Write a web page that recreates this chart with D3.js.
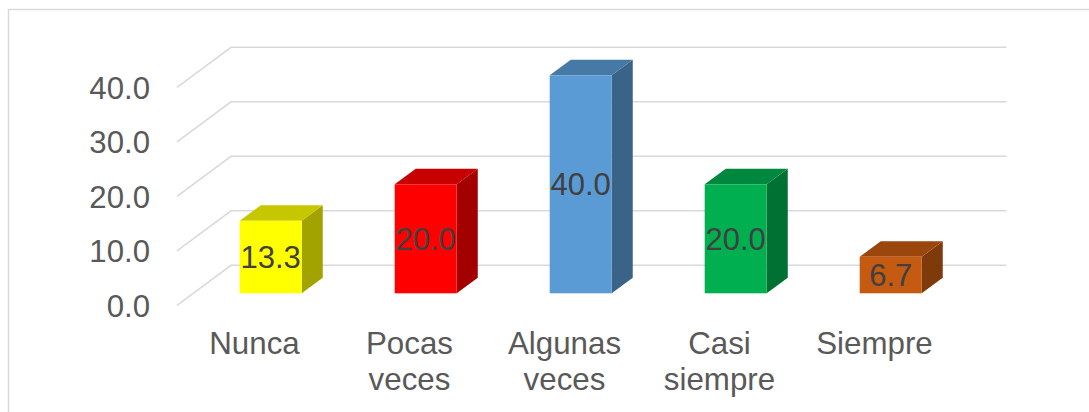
<!DOCTYPE html>
<html lang="es">
<head>
<meta charset="utf-8">
<title>Frecuencia</title>
<script src="https://cdn.jsdelivr.net/npm/d3@7/dist/d3.min.js"></script>
<style>
  body { margin: 0; background: #fff; }
  text { font-family: "Liberation Sans", Arial, sans-serif; }
</style>
</head>
<body>
<script>
// data
var categories = [["Nunca"], ["Pocas", "veces"], ["Algunas", "veces"], ["Casi", "siempre"], ["Siempre"]];
var values = [13.3, 20.0, 40.0, 20.0, 6.7];
var barColors = ["#FFFF00", "#FF0000", "#5B9BD5", "#00B050", "#C55A11"];
var yTicks = [0, 10, 20, 30, 40];

var w = 1089, h = 412;
// 3d floor depth vector and bar placement inside it
var depth = {dx: 54, dy: -40};
var barOff = 0.3, barDepth = 0.39;

var svg = d3.select("body").append("svg").attr("width", w).attr("height", h);

// chart border (only top and left visible)
svg.append("rect")
  .attr("x", 8.5).attr("y", 9.5)
  .attr("width", 1200).attr("height", 500)
  .attr("fill", "none").attr("stroke", "#D9D9D9").attr("stroke-width", 1.5);

var x = d3.scaleBand()
  .domain(d3.range(categories.length))
  .range([177, 952])
  .paddingInner(0.6)
  .paddingOuter(0.3);

var y = d3.scaleLinear().domain([0, 40]).range([305.3, 87.3]);

// gridlines: floor diagonal + back wall
svg.append("g").selectAll("path")
  .data(yTicks)
  .enter().append("path")
  .attr("d", function(t) {
    var fy = y(t);
    return "M177," + fy + "L" + (177 + depth.dx) + "," + (fy + depth.dy) + "L1006.5," + (fy + depth.dy);
  })
  .attr("fill", "none")
  .attr("stroke", "#D9D9D9")
  .attr("stroke-width", 1.5);

// y tick labels
svg.append("g").selectAll("text")
  .data(yTicks)
  .enter().append("text")
  .attr("x", 150)
  .attr("y", function(t) { return y(t); })
  .attr("dy", "0.36em")
  .attr("text-anchor", "end")
  .attr("font-size", "31.2px")
  .attr("fill", "#595959")
  .text(function(t) { return t.toFixed(1); });

function shade(c, k) {
  var r = d3.rgb(c);
  return d3.rgb(r.r * k, r.g * k, r.b * k).formatHex();
}

var ox = barOff * depth.dx, oy = barOff * depth.dy;
var bx = barDepth * depth.dx, by = barDepth * depth.dy;

var bars = svg.append("g").selectAll("g")
  .data(values)
  .enter().append("g");

bars.each(function(v, i) {
  var g = d3.select(this);
  var x0 = x(i) + ox, x1 = x0 + x.bandwidth();
  var yb = y(0) + oy, yt = y(v) + oy;
  // side face
  g.append("path")
    .attr("d", "M" + x1 + "," + yb + "L" + (x1 + bx) + "," + (yb + by) + "L" + (x1 + bx) + "," + (yt + by) + "L" + x1 + "," + yt + "Z")
    .attr("fill", shade(barColors[i], 0.64));
  // top face
  g.append("path")
    .attr("d", "M" + x0 + "," + yt + "L" + x1 + "," + yt + "L" + (x1 + bx) + "," + (yt + by) + "L" + (x0 + bx) + "," + (yt + by) + "Z")
    .attr("fill", shade(barColors[i], 0.78));
  // front face
  g.append("rect")
    .attr("x", x0).attr("y", yt)
    .attr("width", x.bandwidth()).attr("height", yb - yt)
    .attr("fill", barColors[i]);
  // value label
  g.append("text")
    .attr("x", x0 + x.bandwidth() / 2)
    .attr("y", (yt + yb) / 2)
    .attr("dy", "0.36em")
    .attr("text-anchor", "middle")
    .attr("font-size", "31px")
    .attr("fill", "#404040")
    .text(v.toFixed(1));
});

// category labels
var labels = svg.append("g").selectAll("text")
  .data(categories)
  .enter().append("text")
  .attr("x", function(d, i) { return x(i) + x.bandwidth() / 2; })
  .attr("y", 353.5)
  .attr("text-anchor", "middle")
  .attr("font-size", "31.3px")
  .attr("fill", "#595959");

labels.selectAll("tspan")
  .data(function(d) { return d; })
  .enter().append("tspan")
  .attr("x", function() { return d3.select(this.parentNode).attr("x"); })
  .attr("dy", function(d, j) { return j === 0 ? 0 : 36.5; })
  .text(function(d) { return d; });
</script>
</body>
</html>
